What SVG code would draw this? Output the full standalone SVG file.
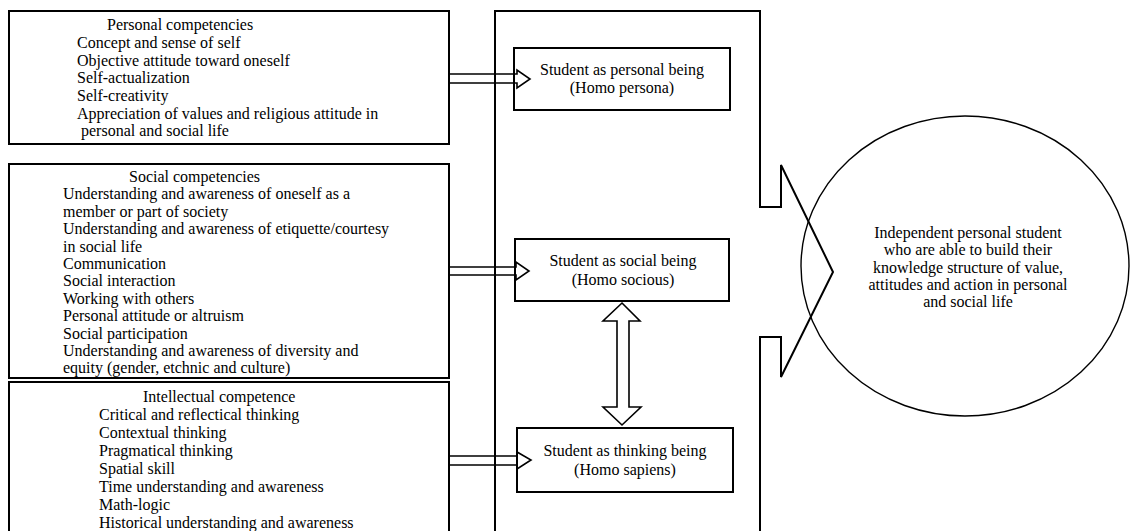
<svg xmlns="http://www.w3.org/2000/svg" width="1130" height="531" viewBox="0 0 1130 531">
<style>
text { font-family: "Liberation Serif", "Times New Roman", serif; font-size: 16px; fill: #000; }
.c { text-anchor: middle; }
.box { fill: none; stroke: #000; stroke-width: 2; }
.arrow { fill: none; stroke: #000; stroke-width: 1.6; stroke-linejoin: miter; }
.frame { fill: none; stroke: #000; stroke-width: 2; }
.ell { fill: none; stroke: #000; stroke-width: 1.4; }
</style>
<rect width="1130" height="531" fill="#fff"/>

<g id="personal-competencies">
  <rect class="box" x="9" y="11" width="440" height="133"/>
  <text x="107" y="30">Personal competencies</text>
  <text x="77" y="48">Concept and sense of self</text>
  <text x="77" y="65.5">Objective attitude toward oneself</text>
  <text x="77" y="83">Self-actualization</text>
  <text x="77" y="101">Self-creativity</text>
  <text x="77" y="118.5">Appreciation of values and religious attitude in</text>
  <text x="81" y="136">personal and social life</text>
</g>

<g id="social-competencies">
  <rect class="box" x="9" y="164" width="440" height="214"/>
  <text x="129" y="182">Social competencies</text>
  <text x="63" y="199.4">Understanding and awareness of oneself as a</text>
  <text x="63" y="216.8">member or part of society</text>
  <text x="63" y="234.2">Understanding and awareness of etiquette/courtesy</text>
  <text x="63" y="251.6">in social life</text>
  <text x="63" y="269">Communication</text>
  <text x="63" y="286.4">Social interaction</text>
  <text x="63" y="303.8">Working with others</text>
  <text x="63" y="321.2">Personal attitude or altruism</text>
  <text x="63" y="338.6">Social participation</text>
  <text x="63" y="356">Understanding and awareness of diversity and</text>
  <text x="63" y="373.4">equity (gender, etchnic and culture)</text>
</g>

<g id="intellectual-competence">
  <rect class="box" x="9" y="382" width="440" height="160"/>
  <text x="143" y="402">Intellectual competence</text>
  <text x="99" y="420">Critical and reflectical thinking</text>
  <text x="99" y="438">Contextual thinking</text>
  <text x="99" y="456">Pragmatical thinking</text>
  <text x="99" y="474">Spatial skill</text>
  <text x="99" y="492">Time understanding and awareness</text>
  <text x="99" y="510">Math-logic</text>
  <text x="99" y="528">Historical understanding and awareness</text>
</g>

<g id="frame">
  <path class="frame" d="M495,540 L495,11 L760,11 L760,207 L781,207 L781,165 L833,272 L781,377 L781,337 L760,337 L760,540"/>
</g>

<g id="homo-persona">
  <rect class="box" x="514" y="48" width="216" height="62"/>
  <text class="c" x="622" y="75">Student as personal being</text>
  <text class="c" x="622" y="93">(Homo persona)</text>
</g>

<g id="homo-socious">
  <rect class="box" x="515" y="239" width="214" height="62"/>
  <text class="c" x="623" y="266">Student as social being</text>
  <text class="c" x="623" y="285">(Homo socious)</text>
</g>

<g id="homo-sapiens">
  <rect class="box" x="517" y="428" width="216" height="64"/>
  <text class="c" x="625" y="456">Student as thinking being</text>
  <text class="c" x="625" y="475">(Homo sapiens)</text>
</g>

<g id="outcome">
  <ellipse class="ell" cx="965" cy="266" rx="164" ry="150"/>
  <text class="c" x="968" y="237.5">Independent personal student</text>
  <text class="c" x="968" y="255">who are able to build their</text>
  <text class="c" x="968" y="272.5">knowledge structure of value,</text>
  <text class="c" x="968" y="290">attitudes and action in personal</text>
  <text class="c" x="968" y="307">and social life</text>
</g>

<g id="connectors">
  <polygon class="arrow" points="449,74 517,74 517,70 530,79 517,88 517,83 449,83"/>
  <polygon class="arrow" points="449,267 516,267 516,262 529,271 516,280 516,275 449,275"/>
  <polygon class="arrow" points="449,456 517,456 517,452 531,460 517,469 517,465 449,465"/>
  <polygon class="arrow" points="622,303 640,321 629,321 629,407 641,407 622,425 603,407 617,407 617,321 603,321"/>
</g>
</svg>
